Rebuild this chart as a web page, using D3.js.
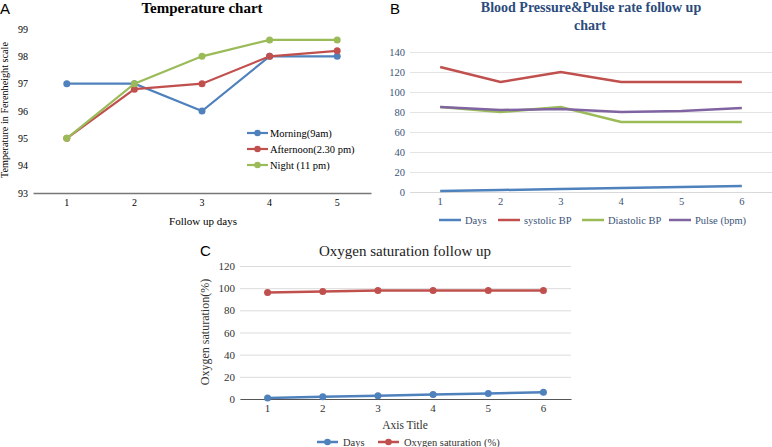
<!DOCTYPE html>
<html><head><meta charset="utf-8">
<script src="https://cdn.jsdelivr.net/npm/d3@7"></script>
<style>body{margin:0;background:#fff}svg{display:block}</style>
</head><body>
<svg id="c" width="772" height="447"></svg>
<script>
// ---- Panel A data ----
const daysA = [1, 2, 3, 4, 5];
const morning = [97, 97, 96, 98, 98];
const afternoon = [95, 96.8, 97, 98, 98.2];
const night = [95, 97, 98, 98.6, 98.6];
const ticksA = [93, 94, 95, 96, 97, 98, 99];
// ---- Panel B data ----
const daysB = [1, 2, 3, 4, 5, 6];
const bDays = [1, 2, 3, 4, 5, 6];
const systolic = [125, 110, 120, 110, 110, 110];
const diastolic = [85, 80, 85, 70, 70, 70];
const pulse = [85, 82, 83, 80, 81, 84];
const ticksB = [0, 20, 40, 60, 80, 100, 120, 140];
// ---- Panel C data ----
const daysC = [1, 2, 3, 4, 5, 6];
const cDays = [1, 2, 3, 4, 5, 6];
const oxygen = [96, 97, 98, 98, 98, 98];
const ticksC = [0, 20, 40, 60, 80, 100, 120];

const BLUE = "#4f81bd", RED = "#c0504d", GREEN = "#9bbb59", PURPLE = "#8064a2";
const svg = d3.select("#c");
const SERIF = "'Liberation Serif', 'Times New Roman', serif";
const SANS = "'Liberation Sans', Arial, sans-serif";

// ================= Panel A =================
{
  const x = d3.scaleBand().domain(daysA).range([33, 371]);
  const y = d3.scaleLinear().domain([93, 99]).range([193, 29]);
  const g = svg.append("g");
  g.append("text").attr("x", 0).attr("y", 14).attr("font-family", SANS).attr("font-size", 15).text("A");
  g.append("text").attr("x", 202).attr("y", 13).attr("text-anchor", "middle")
    .attr("font-family", SERIF).attr("font-weight", "bold").attr("font-size", 15).text("Temperature chart");
  const ax = g.append("g").attr("transform", "translate(0,193)")
    .call(d3.axisBottom(x).tickSize(0).tickPadding(6));
  ax.select(".domain").attr("stroke", "#777").attr("stroke-width", 1.5);
  ax.selectAll("text").attr("font-family", SERIF).attr("font-size", 10).attr("fill", "#000");
  const ay = g.append("g").attr("transform", "translate(33,0)")
    .call(d3.axisLeft(y).tickValues(ticksA).tickFormat(d3.format("d")).tickSize(0).tickPadding(5));
  ay.select(".domain").remove();
  ay.selectAll("text").attr("font-family", SERIF).attr("font-size", 10).attr("fill", "#000");
  g.append("text").attr("x", 203).attr("y", 225).attr("text-anchor", "middle")
    .attr("font-family", SERIF).attr("font-size", 11).text("Follow up days");
  g.append("text").attr("transform", "translate(8,110) rotate(-90)").attr("text-anchor", "middle")
    .attr("font-family", SERIF).attr("font-size", 10.2).text("Temperature in Ferenheight scale");
  const series = [
    {name: "Morning(9am)", vals: morning, c: BLUE},
    {name: "Afternoon(2.30 pm)", vals: afternoon, c: RED},
    {name: "Night (11 pm)", vals: night, c: GREEN}
  ];
  const line = d3.line().x((d, i) => x(daysA[i]) + x.bandwidth() / 2).y(d => y(d));
  series.forEach(s => {
    g.append("path").datum(s.vals).attr("d", line).attr("fill", "none")
      .attr("stroke", s.c).attr("stroke-width", 2.2);
    g.selectAll(null).data(s.vals).enter().append("circle")
      .attr("cx", (d, i) => x(daysA[i]) + x.bandwidth() / 2).attr("cy", d => y(d))
      .attr("r", 3.5).attr("fill", s.c);
  });
  series.forEach((s, i) => {
    const ly = 133 + i * 16;
    g.append("line").attr("x1", 247).attr("x2", 268).attr("y1", ly).attr("y2", ly)
      .attr("stroke", s.c).attr("stroke-width", 2.2);
    g.append("circle").attr("cx", 257.5).attr("cy", ly).attr("r", 3.3).attr("fill", s.c);
    g.append("text").attr("x", 270).attr("y", ly + 4).attr("font-family", SERIF)
      .attr("font-size", 10.5).text(s.name);
  });
}

// ================= Panel B =================
{
  const x = d3.scaleBand().domain(daysB).range([410, 772]);
  const y = d3.scaleLinear().domain([0, 140]).range([192, 52]);
  const g = svg.append("g");
  const TC = "#3b5378";
  g.append("text").attr("x", 390).attr("y", 14).attr("font-family", SANS).attr("font-size", 15).text("B");
  g.append("text").attr("x", 591).attr("y", 12).attr("text-anchor", "middle")
    .attr("font-family", SERIF).attr("font-weight", "bold").attr("font-size", 14).attr("fill", "#2b4b7c")
    .text("Blood Pressure&Pulse rate follow up");
  g.append("text").attr("x", 590).attr("y", 30).attr("text-anchor", "middle")
    .attr("font-family", SERIF).attr("font-weight", "bold").attr("font-size", 14).attr("fill", "#2b4b7c")
    .text("chart");
  const ay = g.append("g").attr("transform", "translate(410,0)")
    .call(d3.axisLeft(y).tickValues(ticksB).tickSize(-362).tickPadding(6));
  ay.select(".domain").remove();
  ay.selectAll("line").attr("stroke", "#e4e4e4");
  ay.selectAll("text").attr("font-family", SERIF).attr("font-size", 10.5).attr("fill", TC)
    .attr("text-anchor", "end").attr("x", -5);
  const ax = g.append("g").attr("transform", "translate(0,192)")
    .call(d3.axisBottom(x).tickSize(0).tickPadding(6));
  ax.select(".domain").attr("stroke", "#d9d9d9");
  ax.selectAll("text").attr("font-family", SERIF).attr("font-size", 10.5).attr("fill", TC);
  const series = [
    {name: "Days", vals: bDays, c: BLUE},
    {name: "systolic BP", vals: systolic, c: RED},
    {name: "Diastolic BP", vals: diastolic, c: GREEN},
    {name: "Pulse (bpm)", vals: pulse, c: PURPLE}
  ];
  const line = d3.line().x((d, i) => x(daysB[i]) + x.bandwidth() / 2).y(d => y(d));
  series.forEach(s => {
    g.append("path").datum(s.vals).attr("d", line).attr("fill", "none")
      .attr("stroke", s.c).attr("stroke-width", 2.5);
  });
  const lx = [439, 498, 582, 669];
  series.forEach((s, i) => {
    g.append("line").attr("x1", lx[i]).attr("x2", lx[i] + 22).attr("y1", 220).attr("y2", 220)
      .attr("stroke", s.c).attr("stroke-width", 2.5);
    g.append("text").attr("x", lx[i] + 26).attr("y", 223.5).attr("font-family", SERIF)
      .attr("font-size", 10.5).attr("fill", TC).text(s.name);
  });
}

// ================= Panel C =================
{
  const x = d3.scaleBand().domain(daysC).range([240, 571]);
  const y = d3.scaleLinear().domain([0, 120]).range([399, 266]);
  const g = svg.append("g");
  g.append("text").attr("x", 200).attr("y", 256).attr("font-family", SANS).attr("font-size", 15).text("C");
  g.append("text").attr("x", 405).attr("y", 256).attr("text-anchor", "middle")
    .attr("font-family", SERIF).attr("font-size", 15).attr("fill", "#222").text("Oxygen saturation follow up");
  const ay = g.append("g").attr("transform", "translate(240,0)")
    .call(d3.axisLeft(y).tickValues(ticksC).tickSize(-331).tickPadding(6));
  ay.select(".domain").remove();
  ay.selectAll("line").attr("stroke", "#dcdcdc");
  ay.selectAll("text").attr("font-family", SERIF).attr("font-size", 11).attr("fill", "#333")
    .attr("text-anchor", "end").attr("x", -5);
  const ax = g.append("g").attr("transform", "translate(0,399)")
    .call(d3.axisBottom(x).tickSize(0).tickPadding(5));
  ax.select(".domain").attr("stroke", "#555").attr("stroke-width", 1.2);
  ax.selectAll("text").attr("font-family", SERIF).attr("font-size", 11).attr("fill", "#333");
  g.append("text").attr("x", 405).attr("y", 429).attr("text-anchor", "middle")
    .attr("font-family", SERIF).attr("font-size", 11.5).attr("fill", "#333").text("Axis Title");
  g.append("text").attr("transform", "translate(209,332) rotate(-90)").attr("text-anchor", "middle")
    .attr("font-family", SERIF).attr("font-size", 12).attr("fill", "#333").text("Oxygen saturation(%)");
  const series = [
    {name: "Days", vals: cDays, c: BLUE},
    {name: "Oxygen saturation (%)", vals: oxygen, c: RED}
  ];
  const line = d3.line().x((d, i) => x(daysC[i]) + x.bandwidth() / 2).y(d => y(d));
  series.forEach(s => {
    g.append("path").datum(s.vals).attr("d", line).attr("fill", "none")
      .attr("stroke", s.c).attr("stroke-width", 2.5);
    g.selectAll(null).data(s.vals).enter().append("circle")
      .attr("cx", (d, i) => x(daysC[i]) + x.bandwidth() / 2).attr("cy", d => y(d))
      .attr("r", 3.5).attr("fill", s.c);
  });
  const lx = [317, 378];
  series.forEach((s, i) => {
    g.append("line").attr("x1", lx[i]).attr("x2", lx[i] + 21).attr("y1", 442).attr("y2", 442)
      .attr("stroke", s.c).attr("stroke-width", 2.5);
    g.append("circle").attr("cx", lx[i] + 10.5).attr("cy", 442).attr("r", 3.3).attr("fill", s.c);
    g.append("text").attr("x", lx[i] + 26).attr("y", 445.5).attr("font-family", SERIF)
      .attr("font-size", 10.5).attr("fill", "#333").text(s.name);
  });
}
</script>
</body></html>
